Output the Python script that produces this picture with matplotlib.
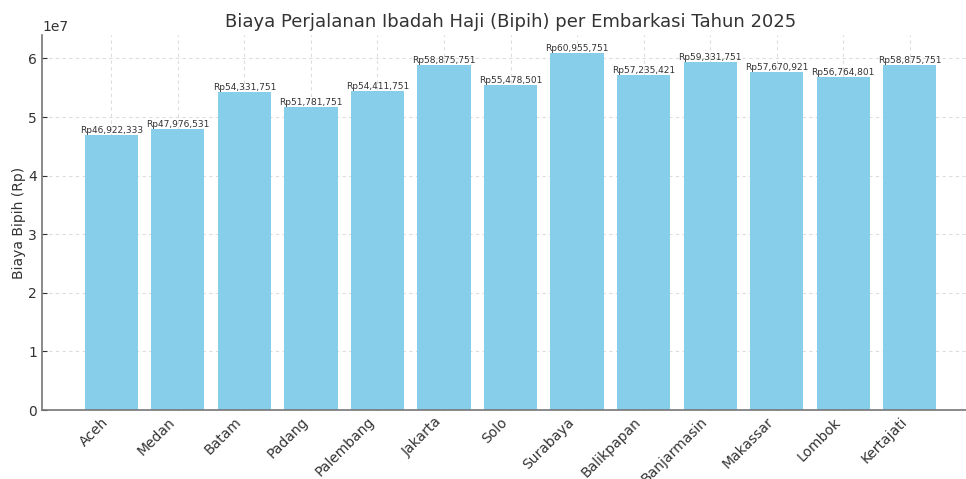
import matplotlib
matplotlib.use("Agg")
import matplotlib.pyplot as plt

categories = ["Aceh", "Medan", "Batam", "Padang", "Palembang", "Jakarta", "Solo",
              "Surabaya", "Balikpapan", "Banjarmasin", "Makassar", "Lombok", "Kertajati"]
values = [46922333, 47976531, 54331751, 51781751, 54411751, 58875751, 55478501,
          60955751, 57235421, 59331751, 57670921, 56764801, 58875751]

fig = plt.figure(figsize=(9.66, 4.79), dpi=100)
ax = fig.add_axes([0.0435, 0.144, 0.970, 0.783])
x = list(range(len(categories)))
bars = ax.bar(x, values, color="skyblue", width=0.8, zorder=2)
for xi, v in zip(x, values):
    ax.text(xi, v, f"Rp{v:,}", ha="center", va="bottom", fontsize=6.5, color="#333333", zorder=3)

ax.set_xticks(x)
ax.set_xticklabels(categories, rotation=45, ha="right", fontsize=10, color="#333333")
ax.tick_params(axis="y", labelsize=10, colors="#333333")
ax.tick_params(axis="both", color="#333333", direction="in", length=3.5)
ax.set_ylabel("Biaya Bipih (Rp)", fontsize=10, color="#333333", labelpad=2)
ax.set_title("Biaya Perjalanan Ibadah Haji (Bipih) per Embarkasi Tahun 2025", fontsize=13, color="#333333")
ax.grid(True, linestyle=(0, (3, 3)), color="#dddddd", linewidth=0.8, zorder=0)
ax.set_axisbelow(True)
for s in ["top", "right"]:
    ax.spines[s].set_visible(False)
for s in ["left", "bottom"]:
    ax.spines[s].set_color("#777777")
    ax.spines[s].set_linewidth(1.2)
ax.yaxis.get_offset_text().set_color("#333333")
ax.yaxis.get_offset_text().set_fontsize(10)
fig.savefig("out.png", dpi=100)
